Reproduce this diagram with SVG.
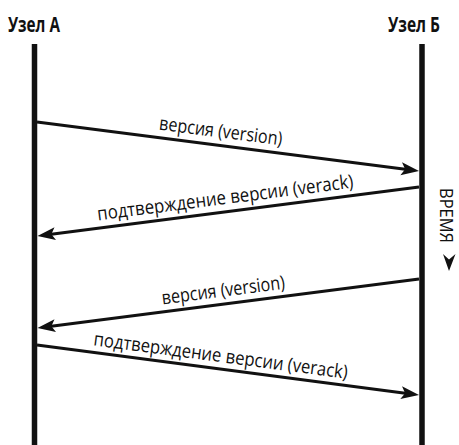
<svg xmlns="http://www.w3.org/2000/svg" width="459" height="445" viewBox="0 0 459 445">
  <style>
    .head { font-family: "Open Sans", "Liberation Sans", sans-serif; font-weight: bold; font-size: 22px; fill: #111; }
    .lbl { font-family: "Open Sans", "Liberation Sans", sans-serif; font-size: 19px; fill: #111; }
    .life { stroke: #111; stroke-width: 5.5; fill: none; }
    .msg { stroke: #111; stroke-width: 3; fill: none; marker-end: url(#head); }
  </style>
  <defs>
    <marker id="head" markerUnits="userSpaceOnUse" markerWidth="20" markerHeight="14" viewBox="0 -7 20 14" refX="8" refY="0" orient="auto">
      <path d="M18,0 L0,-6.5 L4,0 L0,6.5 Z" fill="#111"/>
    </marker>
  </defs>
  <rect width="459" height="445" fill="#fff"/>

  <!-- participant A (condensed heading via horizontal scale) -->
  <g id="node-a">
    <text class="head" transform="translate(8 32) scale(0.75 1)" textLength="69.3" lengthAdjust="spacingAndGlyphs">Узел А</text>
    <line class="life" x1="34.5" y1="44" x2="34.5" y2="445"/>
  </g>

  <!-- participant B -->
  <g id="node-b">
    <text class="head" transform="translate(388 32) scale(0.75 1)" textLength="69.3" lengthAdjust="spacingAndGlyphs">Узел Б</text>
    <line class="life" x1="422" y1="44" x2="422" y2="445"/>
  </g>

  <!-- time axis -->
  <g id="time">
    <text class="lbl" font-size="23" x="440" y="215.5" text-anchor="middle" transform="rotate(90 440 215.5)" textLength="55" lengthAdjust="spacingAndGlyphs">ВРЕМЯ</text>
    <path d="M449,271 L443,254 L449,259.5 L455.5,254 Z" fill="#111"/>
  </g>

  <!-- messages -->
  <g id="connectors">
    <line class="msg" x1="37" y1="122" x2="409.1" y2="169.7"/>
    <line class="msg" x1="419" y1="187" x2="47.4" y2="234.7"/>
    <line class="msg" x1="419" y1="279" x2="47.4" y2="326.7"/>
    <line class="msg" x1="37" y1="345" x2="409.1" y2="393.7"/>

    <text class="lbl" x="220" y="137.5" text-anchor="middle" transform="rotate(7.3 220 137.5)" textLength="124" lengthAdjust="spacingAndGlyphs">версия (version)</text>
    <text class="lbl" x="226" y="204" text-anchor="middle" transform="rotate(-7.3 226 204)" textLength="258" lengthAdjust="spacingAndGlyphs">подтверждение версии (verack)</text>
    <text class="lbl" x="224" y="296.5" text-anchor="middle" transform="rotate(-7.3 224 296.5)" textLength="124" lengthAdjust="spacingAndGlyphs">версия (version)</text>
    <text class="lbl" x="220" y="362" text-anchor="middle" transform="rotate(7.5 220 362)" textLength="256" lengthAdjust="spacingAndGlyphs">подтверждение версии (verack)</text>
  </g>
</svg>
